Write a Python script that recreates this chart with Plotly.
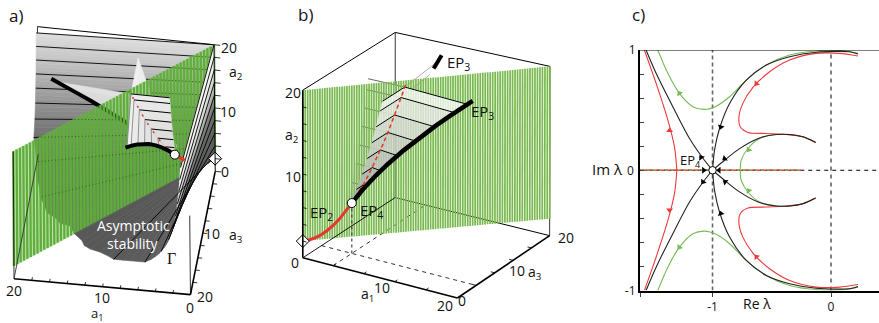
import numpy as np
import plotly.graph_objects as go

FONT = "Open Sans"

# --- surface Gamma: height a2 and ratio a3/a1 along each ruling (a3 < a1 side)
gamma_a2 = [2, 2.02, 2.05, 2.1, 2.2, 2.35, 2.5, 2.75, 3, 3.5, 4, 4.5, 5, 5.5, 6, 6.5, 7, 7.5, 8, 8.5, 9, 9.5,
            10, 10.5, 11, 11.5, 12, 12.5, 13, 13.5, 14, 14.5, 15, 15.5, 16, 16.5, 17, 17.5, 18, 18.5, 19, 19.5, 20]
gamma_ratio = [1, .868, .8, .73, .642, .558, .5, .431, .382, .314, .268, .234, .209, .188, .172, .158, .146, .136,
               .127, .12, .113, .107, .101, .096, .092, .088, .084, .08, .077, .074, .072, .069, .067, .065, .063,
               .061, .059, .057, .056, .054, .053, .051, .05]
back_contours = [2.5, 4, 6, 8, 10, 12, 14, 16, 18, 20]
front_contours = [2.5, 4, 6, 8, 10, 12, 14, 16, 18, 20]

# --- curves of exceptional points (a1, a2, a3)
ep2_s = [0, .5, 1, 1.5, 2, 2.5, 3, 3.5, 4]
ep2_a2 = [2, 2.06, 2.25, 2.56, 3, 3.56, 4.25, 5.06, 6]
fold_s = [4, 4.5, 5, 5.5, 6, 6.5, 7, 7.5, 8, 8.4]
fold_a2 = [6, 7.06, 8.25, 9.56, 11, 12.56, 14.25, 16.06, 18, 19.64]
cusp_a1 = [4, 4.07, 4.35, 5.02, 6.43, 7.66, 9.5, 11.04, 13.06, 14.76, 16.83, 17.4]
cusp_a2 = [6, 6.13, 6.61, 7.59, 9.41, 10.83, 12.75, 14.24, 16.08, 17.53, 19.23, 19.7]
cusp_a3 = [4, 4.06, 4.26, 4.63, 5.22, 5.62, 6.13, 6.49, 6.9, 7.22, 7.56, 7.65]
stub_a1 = [7.5, 7.65]
stub_a2 = [18.6, 19.7]
stub_a3 = [15.9, 17.4]

# --- sheets of the swallowtail at whole levels
sheet_a2 = [6, 8, 10, 12, 14, 16, 18, 19.2]
sheet_s = [4, 4.9, 5.66, 6.32, 6.93, 7.48, 8, 8.3]
sheet_far = [4, 5.34, 6.94, 8.78, 10.79, 12.97, 15.33, 16.83]
sheet_near = [4, 4.76, 5.39, 5.93, 6.43, 6.88, 7.31, 7.56]
sheet_tail = 3.5

# --- root locus, panel c (upper half, lower half is the mirror image)
black1_re = [-1.561, -1.476, -1.335, -1.194, -1.068, -1]
black1_im = [1, .806, .528, .264, .083, 0]
black2_re = [-1, -.983, -.941, -.856, -.715, -.546, -.349, -.124, .158, .228]
black2_im = [0, .167, .347, .556, .75, .875, .944, .981, .986, .967]
black3_re = [-1, -.899, -.772, -.603, -.462, -.349, -.237, -.13]
black3_im = [0, .083, .18, .269, .297, .297, .278, .231]
red1_re = [-1.575, -1.476, -1.377, -1.321, -1.301]
red1_im = [1, .722, .417, .194, 0]
red2_re = [.228, .073, -.124, -.349, -.518, -.659, -.744, -.777, -.766, -.701, -.546, -.377, -.237, -.13]
red2_im = [.95, .972, .972, .917, .819, .689, .556, .444, .361, .314, .306, .297, .278, .231]
green1_re = [-1.462, -1.377, -1.279, -1.166, -1.068, -.969, -.856, -.715, -.546, -.349, -.124, .101, .228]
green1_im = [1, .806, .639, .528, .506, .533, .611, .75, .875, .958, .992, .994, .972]
green2_re = [-.13, -.237, -.349, -.462, -.603, -.701, -.758, -.766]
green2_im = [.231, .278, .297, .297, .264, .181, .083, 0]

arrow_black_re = [-1.096, -1.08, -.93, -.93, -.898, -.893, -1.075, -.945]
arrow_black_im = [.106, -.097, .36, -.36, .097, -.097, 0, 0]
arrow_black_ang = [-35, 215, 195, -15, 235, -55, 90, 270]
arrow_red_re = [-1.362, -1.362, -.63, -.63]
arrow_red_im = [.33, -.33, .72, -.72]
arrow_red_ang = [0, 180, 220, -40]
arrow_green_re = [-1.28, -1.28, -.695, -.695]
arrow_green_im = [.64, -.64, .17, -.17]
arrow_green_ang = [-35, 215, 215, -35]


def fit_view(points, pixels):
    A, b = [], []
    for (x, y, z), (u, v) in zip(points, pixels):
        A.append([x, y, z, 1, 0, 0, 0, 0, -u * x, -u * y, -u * z])
        A.append([0, 0, 0, 0, x, y, z, 1, -v * x, -v * y, -v * z])
        b += [u, v]
    p = np.linalg.lstsq(np.array(A, float), np.array(b, float), rcond=None)[0]
    P = np.append(p, 1).reshape(3, 4)

    def project(a1, a2, a3):
        a1, a2, a3 = np.broadcast_arrays(np.asarray(a1, float), np.asarray(a2, float), np.asarray(a3, float))
        w = P[2, 0] * a1 + P[2, 1] * a2 + P[2, 2] * a3 + P[2, 3]
        px = (P[0, 0] * a1 + P[0, 1] * a2 + P[0, 2] * a3 + P[0, 3]) / w
        py = (P[1, 0] * a1 + P[1, 1] * a2 + P[1, 2] * a3 + P[1, 3]) / w
        return px, py
    return project


view_a = fit_view([(0, 0, 0), (0, 20, 0), (0, 0, 20), (20, 0, 20), (20, 20, 20), (20, 20, 0), (20, 0, 0), (0, 20, 20)],
                  [(215, 171), (214, 45), (191, 295), (14, 278), (13, 152), (38, 26), (38, 155), (189, 168)])
view_b = fit_view([(0, 0, 0), (0, 20, 0), (0, 0, 20), (0, 20, 20), (20, 0, 20), (20, 20, 20), (20, 0, 0)],
                  [(303, 257), (303, 90), (395, 199), (395, 32), (550, 234), (550, 67), (457, 299)])

fig = go.Figure()


def line3(view, a1, a2, a3, color="black", width=1, dash=None):
    x, y = view(a1, a2, a3)
    fig.add_trace(go.Scatter(x=x, y=y, mode="lines", hoverinfo="skip",
                             line=dict(color=color, width=width, dash=dash)))


def poly3(view, pts, color):
    x, y = view(*zip(*pts))
    fig.add_trace(go.Scatter(x=x, y=y, mode="lines", fill="toself", fillcolor=color, hoverinfo="skip",
                             line=dict(color=color, width=0.6)))


def gray(v, a=1):
    v = int(v)
    return f"rgba({v},{v},{v},{a})"


def ray_end(c, k, side):
    if side == "back":
        t = np.interp(c, [2, 2.05, 2.2, 2.5, 3, 4, 6, 20], [14, 15.8, 17.5, 18.5, 19, 19.5, 20, 20])
        return t, c, k * t
    t = np.interp(c, [2, 2.02, 2.05, 2.1, 2.35, 2.5, 3, 4, 20], [14, 15, 15.8, 16.3, 17.4, 18, 18.5, 19.5, 20])
    return t * k, c, t


def gamma_strips(view, side, levels_v, shades):
    for i in range(len(gamma_a2) - 1):
        c0, c1 = gamma_a2[i], gamma_a2[i + 1]
        k0, k1 = gamma_ratio[i], gamma_ratio[i + 1]
        shade = np.interp((c0 + c1) / 2, levels_v, shades)
        poly3(view, [(0, c0, 0), ray_end(c0, k0, side), ray_end(c1, k1, side), (0, c1, 0)], gray(shade))


def gamma_lines(view, side, levels):
    for c in levels:
        k = gamma_ratio[gamma_a2.index(c)]
        e = ray_end(c, k, side)
        line3(view, [0, e[0]], [c, c], [0, e[2]], width=0.9)


def green_plane(view, step, color, width, base=None):
    if base:
        poly3(view, [(0, 2, 0), (20, 2, 20), (20, 20, 20), (0, 20, 0)], base)
    xs, ys = [], []
    for s in np.arange(0, 20 + step / 2, step):
        x, y = view([s, s], [2, 20], [s, s])
        xs += [x[0], x[1], None]
        ys += [y[0], y[1], None]
    fig.add_trace(go.Scatter(x=xs, y=ys, mode="lines", hoverinfo="skip", line=dict(color=color, width=width)))


def sheet(view, kind, shades, opacity, tail=sheet_tail):
    for i in range(len(sheet_a2) - 1):
        c0, c1 = sheet_a2[i], sheet_a2[i + 1]
        s0, s1 = sheet_s[i], sheet_s[i + 1]
        if kind == "far":
            pts = [(s0, c0, s0), (sheet_far[i], c0, sheet_near[i]), (sheet_far[i + 1], c1, sheet_near[i + 1]), (s1, c1, s1)]
        elif kind == "near":
            pts = [(s0, c0, s0), (sheet_near[i], c0, sheet_far[i]), (sheet_near[i + 1], c1, sheet_far[i + 1]), (s1, c1, s1)]
        elif kind == "tail_a1":
            pts = [(s0, c0, s0), (tail, c0, s0), (tail, c1, s1), (s1, c1, s1)]
        else:
            pts = [(s0, c0, s0), (s0, c0, tail), (s1, c1, tail), (s1, c1, s1)]
        poly3(view, pts, gray(np.interp(c0, [6, 18], shades), opacity))


def sheet_lines(view, kind, color="black", width=1, tail=sheet_tail):
    for i in range(1, len(sheet_a2)):
        c, s = sheet_a2[i], sheet_s[i]
        if kind == "far":
            line3(view, [s, sheet_far[i]], [c, c], [s, sheet_near[i]], color, width)
        elif kind == "near":
            line3(view, [s, sheet_near[i]], [c, c], [s, sheet_far[i]], color, width)
        elif kind == "tail_a1":
            line3(view, [s, tail], [c, c], [s, s], color, width)
        else:
            line3(view, [s, s], [c, c], [s, tail], color, width)


def mark3(view, a1, a2, a3, symbol, size):
    x, y = view([a1], [a2], [a3])
    fig.add_trace(go.Scatter(x=x, y=y, mode="markers", hoverinfo="skip",
                             marker=dict(symbol=symbol, size=size, color="white", line=dict(color="black", width=1))))


def ticks(view, a1, a2, a3, d1, d2, d3, width=0.8):
    xs, ys = [], []
    for p1, p2, p3 in zip(a1, a2, a3):
        x, y = view([p1, p1 + d1], [p2, p2 + d2], [p3, p3 + d3])
        xs += [x[0], x[1], None]
        ys += [y[0], y[1], None]
    fig.add_trace(go.Scatter(x=xs, y=ys, mode="lines", hoverinfo="skip", line=dict(color="black", width=width)))


# ------------------ panel a
line3(view_a, [20, 20], [0, 20], [0, 0], width=0.8)
gamma_strips(view_a, "back", [2, 3, 5, 8, 12, 16, 20], [92, 92, 105, 130, 165, 195, 222])
gamma_lines(view_a, "back", back_contours)
line3(view_a, [20, 0], [20, 20], [0, 0], width=1)
sheet(view_a, "far", [190, 225], 1)
sheet(view_a, "tail_a3", [225, 240], 1, tail=2.5)
line3(view_a, cusp_a1, cusp_a2, cusp_a3, width=4)
green_plane(view_a, 1 / 3, "#5fae3c", 2.3, "rgba(112,186,74,0.45)")
line3(view_a, [20, 20], [0, 20], [20, 20], width=0.8)
line3(view_a, [20, 20], [0, 0], [0, 20], width=0.9, color="#333333")
gamma_strips(view_a, "front", [2, 3, 6, 8, 10, 12, 14, 17, 20], [88, 92, 95, 100, 110, 140, 205, 245, 250])
gamma_lines(view_a, "front", front_contours)
sheet(view_a, "near", [215, 240], 1)
sheet(view_a, "tail_a1", [215, 235], 1, tail=3.9)
sheet_lines(view_a, "tail_a1", tail=3.9)
sheet_lines(view_a, "near", "#555555", 0.6)
line3(view_a, fold_s, fold_a2, fold_s, "#e8352e", 1.6, "2px,8px")
line3(view_a, cusp_a3, cusp_a2, cusp_a1, width=4)
line3(view_a, ep2_s[-3:], ep2_a2[-3:], ep2_s[-3:], "#e8352e", 3)
mark3(view_a, 4, 6, 4, "circle", 9)
mark3(view_a, 0, 2, 0, "diamond", 10)
line3(view_a, [0, 20], [0, 0], [20, 20], width=1.6)
line3(view_a, [0, 0], [0, 0], [0, 20], width=1.6)
line3(view_a, [0, 0], [0, 12.5], [20, 20], width=0.8)
line3(view_a, [0, 0], [0, 20], [0, 0], width=1)
ticks(view_a, [0, 2, 4, 6, 8, 10, 12, 14, 16, 18], [0] * 10, [20] * 10, 0, 0, -0.5)
ticks(view_a, [0, 0, 0, 0, 0, 0, 0, 0, 0], [0] * 9, [2, 4, 6, 8, 10, 12, 14, 16, 18], -0.5, 0, 0)
ticks(view_a, [0] * 11, [0, 2, 4, 6, 8, 10, 12, 14, 16, 18, 20], [0] * 11, -0.7, 0, 0)

# ------------------ panel b
line3(view_b, [0, 0], [20, 20], [0, 20], width=1)
line3(view_b, [0, 20], [20, 20], [20, 20], width=1)
line3(view_b, [0, 0], [0, 20], [20, 20], width=0.8)
line3(view_b, [20, 20], [0, 20], [20, 20], width=0.8)
line3(view_b, [0, 20], [0, 0], [20, 20], width=1)
line3(view_b, [4, 4], [0, 0], [0, 20], width=0.8, dash="4px,4px")
line3(view_b, [0, 20], [0, 0], [4, 4], width=0.8, dash="4px,4px")
sheet(view_b, "near", [215, 250], 0.7)
sheet(view_b, "tail_a1", [215, 250], 0.7)
sheet_lines(view_b, "tail_a1", "#444444", 0.8)
sheet_lines(view_b, "near", "#777777", 0.6)
green_plane(view_b, 0.2, "#79b84e", 1.7)
line3(view_b, stub_a1, stub_a2, stub_a3, width=4)
line3(view_b, [4, 4], [0, 6], [4, 4], color="#444444", width=1.2, dash="3px,3px")
sheet(view_b, "far", [170, 250], 0.78)
sheet(view_b, "tail_a3", [170, 250], 0.78)
sheet_lines(view_b, "far")
sheet_lines(view_b, "tail_a3")
line3(view_b, fold_s, fold_a2, fold_s, "#e8352e", 1.5, "4px,3px")
line3(view_b, cusp_a1, cusp_a2, cusp_a3, width=4.5)
line3(view_b, ep2_s, ep2_a2, ep2_s, "#e8352e", 3)
mark3(view_b, 4, 6, 4, "circle", 9)
mark3(view_b, 0, 2, 0, "diamond", 10)
line3(view_b, [0, 0], [0, 20], [0, 0], width=1.6)
line3(view_b, [0, 20], [0, 0], [0, 0], width=1.6)
line3(view_b, [0, 0], [0, 0], [0, 20], width=0.9)
line3(view_b, [20, 20], [0, 0], [0, 20], width=1.6)
ticks(view_b, [0] * 9, [2, 4, 6, 8, 10, 12, 14, 16, 18], [0] * 9, 0.5, 0, 0)
ticks(view_b, [4, 8, 12, 16], [0] * 4, [0] * 4, 0, 0, 0.6)
ticks(view_b, [20] * 4, [0] * 4, [4, 8, 12, 16], -0.5, 0, 0)

# ------------------ panel c
C_BLACK, C_RED, C_GREEN = "#222222", "#ec3a3a", "#77bb55"


def locus(re, im, color, mirror=True):
    fig.add_trace(go.Scatter(x=re, y=im, xaxis="x2", yaxis="y2", mode="lines", hoverinfo="skip",
                             line=dict(color=color, width=1.1, shape="spline", smoothing=0.8)))
    if mirror:
        fig.add_trace(go.Scatter(x=re, y=[-v for v in im], xaxis="x2", yaxis="y2", mode="lines", hoverinfo="skip",
                                 line=dict(color=color, width=1.1, shape="spline", smoothing=0.8)))


def arrows(re, im, angle, color):
    fig.add_trace(go.Scatter(x=re, y=im, xaxis="x2", yaxis="y2", mode="markers", hoverinfo="skip",
                             marker=dict(symbol="triangle-up", size=6, color=color, angle=angle, line=dict(width=0))))


fig.add_trace(go.Scatter(x=[-1.61, 0.405], y=[0, 0], xaxis="x2", yaxis="y2", mode="lines", hoverinfo="skip",
                         line=dict(color="black", width=1, dash="4px,4px")))
fig.add_trace(go.Scatter(x=[0, 0], y=[-1, 1], xaxis="x2", yaxis="y2", mode="lines", hoverinfo="skip",
                         line=dict(color="black", width=1, dash="4px,4px")))
fig.add_trace(go.Scatter(x=[-1, -1], y=[-1, 1], xaxis="x2", yaxis="y2", mode="lines", hoverinfo="skip",
                         line=dict(color="#666666", width=1.6, dash="4px,3px")))
for col, dash, width in [("#ec3a3a", None, 1.4), ("#77bb55", "3px,3px", 1.4), ("#333333", "1px,5px", 1.2)]:
    fig.add_trace(go.Scatter(x=[-1.61, -.25], y=[0, 0], xaxis="x2", yaxis="y2", mode="lines", hoverinfo="skip",
                             line=dict(color=col, width=width, dash=dash)))

locus(green1_re, green1_im, C_GREEN)
locus(green2_re, green2_im, C_GREEN)
locus(red1_re, red1_im, C_RED)
locus(red2_re, red2_im, C_RED)
locus(black1_re, black1_im, C_BLACK)
locus(black2_re, black2_im, C_BLACK)
locus(black3_re, black3_im, C_BLACK)
arrows(arrow_green_re, arrow_green_im, arrow_green_ang, "#77bb55")
arrows(arrow_red_re, arrow_red_im, arrow_red_ang, C_RED)
arrows(arrow_black_re, arrow_black_im, arrow_black_ang, "black")
fig.add_trace(go.Scatter(x=[-1], y=[0], xaxis="x2", yaxis="y2", mode="markers", hoverinfo="skip",
                         marker=dict(symbol="circle", size=7.5, color="white", line=dict(color="black", width=1))))

labels = [
    (16, 15, "a)", 17), (97, 314, "a<sub>1</sub>", 13), (14, 290, "20", 14), (102, 297, "10", 14), (190, 307, "0", 14),
    (205, 296, "20", 14), (212, 233, "10", 14), (236, 235, "a<sub>3</sub>", 14), (225, 171, "0", 14),
    (228, 111, "10", 14), (229, 47, "20", 14), (236, 72, "a<sub>2</sub>", 14),
    (305, 14, "b)", 17), (293, 92, "20", 14), (292, 135, "a<sub>2</sub>", 14), (293, 176, "10", 14), (295, 262, "0", 14),
    (367, 294, "a<sub>1</sub>", 14), (382, 287, "10", 14), (445, 305, "20", 14), (462, 300, "0", 14),
    (517, 270, "10", 14), (535, 272, "a<sub>3</sub>", 14), (566, 237, "20", 14),
    (458, 63, "EP<sub>3</sub>", 15), (482, 112, "EP<sub>3</sub>", 15), (321, 213, "EP<sub>2</sub>", 15), (371, 211, "EP<sub>4</sub>", 15),
    (638, 14, "c)", 17), (690, 161, "EP<sub>4</sub>", 13), (607, 169, "Im λ", 15), (630, 170, "0", 12), (757, 303, "Re λ", 14),
]
annotations = [dict(x=x, y=y, xref="x", yref="y", text=t, showarrow=False, font=dict(family=FONT, size=s, color="#111111"))
               for x, y, t, s in labels]
annotations += [
    dict(x=133, y=225, xref="x", yref="y", text="Asymptotic", showarrow=False, font=dict(family=FONT, size=14, color="white")),
    dict(x=133, y=243, xref="x", yref="y", text="stability", showarrow=False, font=dict(family=FONT, size=14, color="white")),
    dict(x=171, y=258, xref="x", yref="y", text="Γ", showarrow=False, font=dict(family="Liberation Serif", size=16, color="#111111")),
]

PX0, PX1 = 640, 879
PY_TOP, PY_BOT = 50, 290.5
fig.update_layout(
    width=879, height=323, margin=dict(l=0, r=0, t=0, b=0, autoexpand=False), autosize=False,
    paper_bgcolor="white", plot_bgcolor="rgba(0,0,0,0)", showlegend=False, annotations=annotations,
    font=dict(family=FONT, color="#111111"),
    xaxis=dict(range=[0, 879], domain=[0, 1], visible=False, fixedrange=True),
    yaxis=dict(range=[323, 0], domain=[0, 1], visible=False, fixedrange=True),
    xaxis2=dict(range=[-1.612, 0.405], domain=[PX0 / 879, 1], anchor="y2", showgrid=False, zeroline=False,
                ticks="outside", ticklen=4, tickvals=[-1.612, -1, 0], ticktext=["", "-1", "0"], tickfont=dict(size=12, family=FONT),
                showline=True, linecolor="black", linewidth=2),
    yaxis2=dict(range=[-1, 1], domain=[1 - PY_BOT / 323, 1 - PY_TOP / 323], anchor="x2", showgrid=False, zeroline=False,
                ticks="inside", ticklen=4, tickvals=[-1, -.8, -.6, -.4, -.2, 0, .2, .4, .6, .8, 1],
                ticktext=["-1", "", "", "", "", " ", "", "", "", "", "1"], tickfont=dict(size=12, family=FONT),
                showline=True, linecolor="black", linewidth=2),
    shapes=[dict(type="line", xref="x2", yref="y2", x0=-1.612, x1=0.405, y0=1, y1=1, line=dict(color="black", width=1))],
)

fig.write_html("out.html", config=dict(displayModeBar=False),
               post_script="document.body.style.margin='0';document.body.style.overflow='hidden';")
